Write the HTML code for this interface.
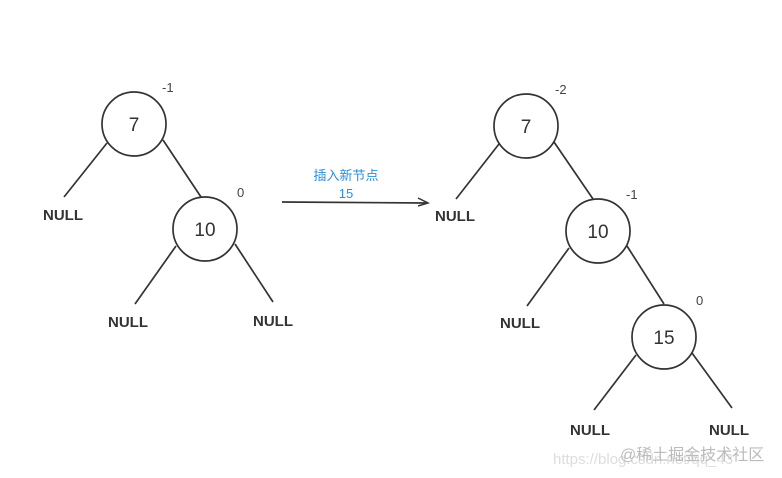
<!DOCTYPE html>
<html><head><meta charset="utf-8"><style>
body{margin:0;background:#fff;}
svg{display:block}
.n{font-family:"Liberation Sans",sans-serif;font-size:19px;fill:#333}
.b{font-family:"Liberation Sans",sans-serif;font-size:15px;font-weight:bold;fill:#333}
.s{font-family:"Liberation Sans",sans-serif;font-size:13px;fill:#444}
.c{font-family:"Liberation Sans","Noto Sans CJK SC",sans-serif;font-size:13px;fill:#2b8fd8}
line{stroke:#333;stroke-width:1.7}
circle{fill:#fff;stroke:#333;stroke-width:1.7}
</style></head><body>
<svg width="782" height="478" viewBox="0 0 782 478">
<line x1="107" y1="143" x2="64" y2="197"/><line x1="163" y1="140" x2="201" y2="197"/>
<line x1="176" y1="246" x2="135" y2="304"/><line x1="235" y1="244" x2="273" y2="302"/>
<circle cx="134" cy="124" r="32"/><text class="n" x="134" y="131" text-anchor="middle">7</text>
<circle cx="205" cy="229" r="32"/><text class="n" x="205" y="236" text-anchor="middle">10</text>
<text class="s" x="162" y="92">-1</text><text class="s" x="237" y="197">0</text>
<text class="b" x="43" y="220">NULL</text><text class="b" x="108" y="327">NULL</text><text class="b" x="253" y="326">NULL</text>
<line x1="282" y1="202" x2="427" y2="203"/><path d="M418 198 L428 203 L418 206" fill="none" stroke="#333" stroke-width="1.5"/>
<text class="c" x="346" y="180" text-anchor="middle">插入新节点</text>
<text class="c" x="346" y="198" text-anchor="middle">15</text>
<line x1="499" y1="144" x2="456" y2="199"/><line x1="554" y1="142" x2="593" y2="199"/>
<line x1="569" y1="248" x2="527" y2="306"/><line x1="627" y1="246" x2="664" y2="304"/>
<line x1="636" y1="355" x2="594" y2="410"/><line x1="692" y1="353" x2="732" y2="408"/>
<circle cx="526" cy="126" r="32"/><text class="n" x="526" y="133" text-anchor="middle">7</text>
<circle cx="598" cy="231" r="32"/><text class="n" x="598" y="238" text-anchor="middle">10</text>
<circle cx="664" cy="337" r="32"/><text class="n" x="664" y="344" text-anchor="middle">15</text>
<text class="s" x="555" y="94">-2</text><text class="s" x="626" y="199">-1</text><text class="s" x="696" y="305">0</text>
<text class="b" x="435" y="221">NULL</text><text class="b" x="500" y="328">NULL</text>
<text class="b" x="570" y="435">NULL</text><text class="b" x="709" y="435">NULL</text>
<text x="553" y="464" font-family="Liberation Sans,sans-serif" font-size="15" fill="#ddd">https://blog.csdn.net/qq_43</text>
<text x="620" y="460" font-family="Liberation Sans,Noto Sans CJK SC,sans-serif" font-size="16" fill="#bbb">@稀土掘金技术社区</text>
</svg>
</body></html>
